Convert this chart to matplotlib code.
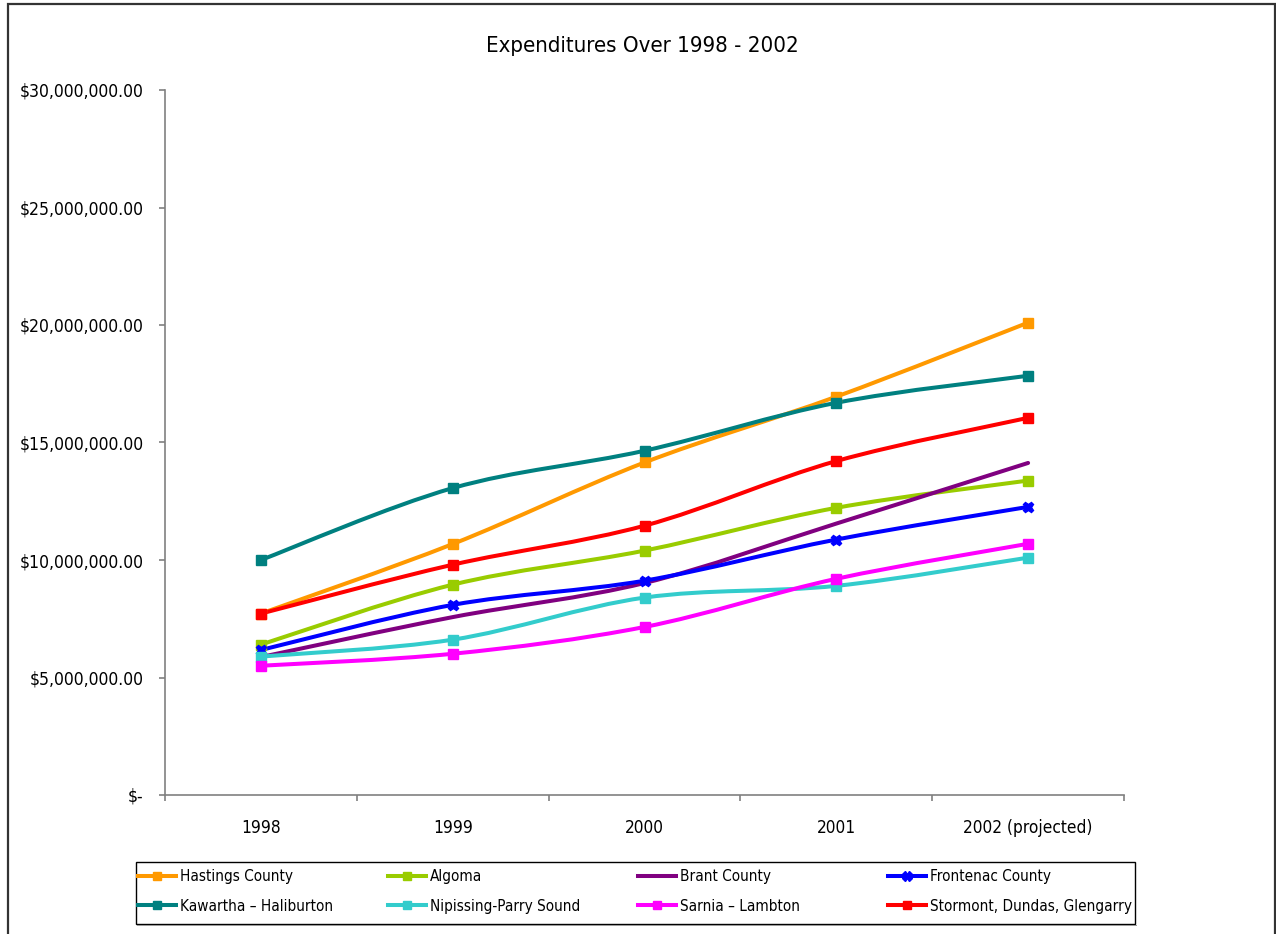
import matplotlib
matplotlib.use("Agg")
import matplotlib.pyplot as plt
from matplotlib.path import Path
from matplotlib.patches import PathPatch, Rectangle
from matplotlib.lines import Line2D
from matplotlib import font_manager
import numpy as np

names = [f.name for f in font_manager.fontManager.ttflist]
if "Liberation Sans Narrow" in names:
    FONT = dict(family="Liberation Sans Narrow")
else:
    FONT = dict(family="DejaVu Sans", stretch="condensed")
plt.rcParams["font.family"] = FONT["family"]

categories = ["1998", "1999", "2000", "2001", "2002 (projected)"]
hastings = [7.72e6, 10.68e6, 14.15e6, 16.95e6, 20.10e6]
algoma = [6.40e6, 8.95e6, 10.40e6, 12.22e6, 13.38e6]
brant = [5.87e6, 7.57e6, 9.02e6, 11.55e6, 14.13e6]
frontenac = [6.17e6, 8.09e6, 9.12e6, 10.87e6, 12.26e6]
kawartha = [10.00e6, 13.06e6, 14.65e6, 16.69e6, 17.84e6]
nipissing = [5.89e6, 6.61e6, 8.40e6, 8.90e6, 10.10e6]
sarnia = [5.50e6, 6.01e6, 7.15e6, 9.20e6, 10.69e6]
stormont = [7.72e6, 9.80e6, 11.46e6, 14.21e6, 16.05e6]

series = [
    ("Hastings County", hastings, "#FF9900", "s"),
    ("Algoma", algoma, "#99CC00", "s"),
    ("Brant County", brant, "#800080", None),
    ("Frontenac County", frontenac, "#0000FF", "X"),
    ("Kawartha \u2013 Haliburton", kawartha, "#008080", "s"),
    ("Nipissing-Parry Sound", nipissing, "#33CCCC", "s"),
    ("Sarnia \u2013 Lambton", sarnia, "#FF00FF", "s"),
    ("Stormont, Dundas, Glengarry", stormont, "#FF0000", "s"),
]

W, H = 1276, 934
fig = plt.figure(figsize=(W / 100, H / 100), dpi=100)
fig.patch.set_facecolor("white")


def stretch(t):
    if "stretch" in FONT:
        t.set_stretch(FONT["stretch"])


# outer chart border
fig.patches.append(Rectangle((8 / W, -0.02), (1275 - 8) / W, 1 - 4 / H + 0.02,
                             transform=fig.transFigure, fill=False,
                             edgecolor="#333333", linewidth=1.6, zorder=0))

ax = fig.add_axes([165 / W, 1 - 795 / H, (1124 - 165) / W, (795 - 90) / H])
ax.set_facecolor("white")
x = np.arange(len(categories))


def smooth_path(xs, ys):
    pts = np.column_stack([xs, ys]).astype(float)
    n = len(pts)
    verts = [pts[0]]
    codes = [Path.MOVETO]
    for i in range(n - 1):
        p0 = pts[i - 1] if i > 0 else pts[i]
        p1 = pts[i]
        p2 = pts[i + 1]
        p3 = pts[i + 2] if i + 2 < n else pts[i + 1]
        c1 = p1 + (p2 - p0) / 6.0
        c2 = p2 - (p3 - p1) / 6.0
        verts += [c1, c2, p2]
        codes += [Path.CURVE4] * 3
    return Path(verts, codes)


LW = 2.9
handles = []
for name, vals, color, mk in series:
    patch = PathPatch(smooth_path(x, vals), facecolor="none", edgecolor=color,
                      linewidth=LW, capstyle="round", joinstyle="round", zorder=3)
    ax.add_patch(patch)
    ms = 6.5 if mk == "s" else 7.5
    if mk is not None:
        ax.plot(x, vals, linestyle="none", marker=mk, markersize=ms,
                color=color, markeredgecolor=color, zorder=4)
    handles.append(Line2D([0], [0], color=color, linewidth=LW, marker=mk,
                          markersize=ms - 1, markeredgecolor=color))

ax.set_xlim(-0.5, len(categories) - 0.5)
ax.set_ylim(0, 30e6)
yt = np.arange(0, 30e6 + 1, 5e6)
ax.set_yticks(yt)
ax.set_yticklabels(["$-"] + ["${:,.2f}".format(v) for v in yt[1:]])

ax.set_xticks(np.arange(-0.5, len(categories), 1.0))
ax.set_xticklabels([])
ax.set_xticks(x, minor=True)
ax.set_xticklabels(categories, minor=True)

for s in ["top", "right"]:
    ax.spines[s].set_visible(False)
for s in ["left", "bottom"]:
    ax.spines[s].set_color("#808080")
    ax.spines[s].set_linewidth(1.2)

ax.tick_params(axis="y", which="major", direction="out", length=4.5, width=1.2,
               color="#808080", labelsize=12.6, pad=11, labelcolor="black")
ax.tick_params(axis="x", which="major", direction="out", length=4.5, width=1.2,
               color="#808080")
ax.tick_params(axis="x", which="minor", length=0, labelsize=12.4, pad=17)
for lab in ax.get_yticklabels() + ax.get_xticklabels(minor=True):
    stretch(lab)

title = fig.text(0.5 * (487 + 797) / W, 1 - 46 / H, "Expenditures Over 1998 - 2002",
                 ha="center", va="center", fontsize=15.9)
stretch(title)

# legend frame
fig.patches.append(Rectangle((136 / W, 1 - 924 / H), (1135 - 136) / W, (924 - 862) / H,
                             transform=fig.transFigure, fill=False,
                             edgecolor="black", linewidth=1.0, zorder=1))
fig.patches.append(Rectangle((137 / W, 1 - 926 / H), (1137 - 137) / W, 1.2 / H,
                             transform=fig.transFigure, fill=True,
                             facecolor="#999999", edgecolor="none", zorder=1))

# legend, row-major order across 4 columns
col_x = [138, 388, 638, 888]
LFS = 11.0
for c in range(4):
    idx = [c, c + 4]
    lg = fig.legend([handles[i] for i in idx], [series[i][0] for i in idx],
                    loc="upper left", bbox_to_anchor=(col_x[c] / W, 1 - 869 / H),
                    frameon=False, fontsize=LFS, handlelength=2.5, handletextpad=0.26,
                    borderaxespad=0, borderpad=0, labelspacing=0.95)
    for t in lg.get_texts():
        stretch(t)

fig.savefig("out.png", dpi=100, facecolor="white")
